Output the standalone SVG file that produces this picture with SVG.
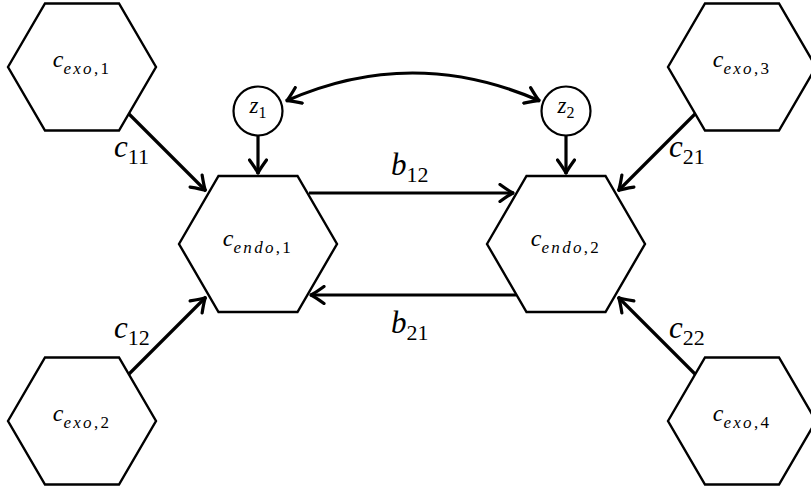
<svg xmlns="http://www.w3.org/2000/svg" width="811" height="488" viewBox="0 0 811 488">
  <style>
    .hex { fill: #ffffff; stroke: #000000; stroke-width: 2.4; stroke-linejoin: miter; }
    .lat { fill: #ffffff; stroke: #000000; stroke-width: 2.2; }
    .edge { fill: none; stroke: #000000; stroke-width: 3.2; }
    text { font-family: "Liberation Serif", "Times New Roman", serif; font-style: italic; fill: #000000; }
    .up { font-style: normal; }
    .nt { font-size: 24px; }
    .ns { font-size: 17px; letter-spacing: 2.3px; }
    .et { font-size: 31px; }
    .es { font-size: 22px; }
  </style>
  <defs>
    <marker id="head" viewBox="-16 -10 20 20" markerWidth="20" markerHeight="20" refX="0" refY="0" markerUnits="userSpaceOnUse" orient="auto-start-reverse">
      <path d="M -14 -8.5 Q -5 -2 -1 0 Q -5 2 -14 8.5" fill="none" stroke="#000000" stroke-width="3.2" stroke-linecap="round" stroke-linejoin="round"/>
    </marker>
  </defs>

  <!-- connectors -->
  <g id="edges">
    <path class="edge" d="M 129 114 L 206 191" marker-end="url(#head)"/>
    <path class="edge" d="M 129 374 L 206 297" marker-end="url(#head)"/>
    <path class="edge" d="M 695 114 L 618 191" marker-end="url(#head)"/>
    <path class="edge" d="M 695 374 L 618 297" marker-end="url(#head)"/>
    <path class="edge" d="M 258 136 L 258 174" marker-end="url(#head)"/>
    <path class="edge" d="M 566 136 L 566 174" marker-end="url(#head)"/>
    <path class="edge" d="M 286 101 Q 412 45 540 101" marker-start="url(#head)" marker-end="url(#head)"/>
    <path class="edge" d="M 309 193 L 514 193" marker-end="url(#head)"/>
    <path class="edge" d="M 516 295 L 310 295" marker-end="url(#head)"/>
  </g>

  <!-- edge labels -->
  <g id="edge-labels">
    <text x="114" y="157"><tspan class="et">c</tspan><tspan class="es up" dy="7">11</tspan></text>
    <text x="114" y="338"><tspan class="et">c</tspan><tspan class="es up" dy="7">12</tspan></text>
    <text x="669" y="157"><tspan class="et">c</tspan><tspan class="es up" dy="7">21</tspan></text>
    <text x="669" y="338"><tspan class="et">c</tspan><tspan class="es up" dy="7">22</tspan></text>
    <text x="391" y="175"><tspan class="et">b</tspan><tspan class="es up" dy="7">12</tspan></text>
    <text x="391" y="333"><tspan class="et">b</tspan><tspan class="es up" dy="7">21</tspan></text>
  </g>

  <!-- exogenous nodes -->
  <g id="exo1">
    <polygon class="hex" points="8,67 45,3.5 119,3.5 156,67 119,130.5 45,130.5"/>
    <text x="82" y="67" text-anchor="middle"><tspan class="nt">c</tspan><tspan class="ns" dy="7">exo<tspan class="up">,1</tspan></tspan></text>
  </g>
  <g id="exo2">
    <polygon class="hex" points="8,421 45,357.5 119,357.5 156,421 119,484.5 45,484.5"/>
    <text x="82" y="421" text-anchor="middle"><tspan class="nt">c</tspan><tspan class="ns" dy="7">exo<tspan class="up">,2</tspan></tspan></text>
  </g>
  <g id="exo3">
    <polygon class="hex" points="668,67 705,3.5 779,3.5 816,67 779,130.5 705,130.5"/>
    <text x="742" y="67" text-anchor="middle"><tspan class="nt">c</tspan><tspan class="ns" dy="7">exo<tspan class="up">,3</tspan></tspan></text>
  </g>
  <g id="exo4">
    <polygon class="hex" points="668,421 705,357.5 779,357.5 816,421 779,484.5 705,484.5"/>
    <text x="742" y="421" text-anchor="middle"><tspan class="nt">c</tspan><tspan class="ns" dy="7">exo<tspan class="up">,4</tspan></tspan></text>
  </g>

  <!-- endogenous nodes -->
  <g id="endo1">
    <polygon class="hex" points="179,244 218.5,176 297.5,176 337,244 297.5,312 218.5,312"/>
    <text x="258" y="246" text-anchor="middle"><tspan class="nt">c</tspan><tspan class="ns" dy="7">endo<tspan class="up">,1</tspan></tspan></text>
  </g>
  <g id="endo2">
    <polygon class="hex" points="487,244 526.5,176 605.5,176 645,244 605.5,312 526.5,312"/>
    <text x="566" y="246" text-anchor="middle"><tspan class="nt">c</tspan><tspan class="ns" dy="7">endo<tspan class="up">,2</tspan></tspan></text>
  </g>

  <!-- latent nodes -->
  <g id="z1">
    <circle class="lat" cx="258" cy="111" r="24.5"/>
    <text x="258" y="113" text-anchor="middle"><tspan font-size="23px">z</tspan><tspan class="up" font-size="16px" dy="5">1</tspan></text>
  </g>
  <g id="z2">
    <circle class="lat" cx="566" cy="111" r="24.5"/>
    <text x="566" y="113" text-anchor="middle"><tspan font-size="23px">z</tspan><tspan class="up" font-size="16px" dy="5">2</tspan></text>
  </g>
</svg>
